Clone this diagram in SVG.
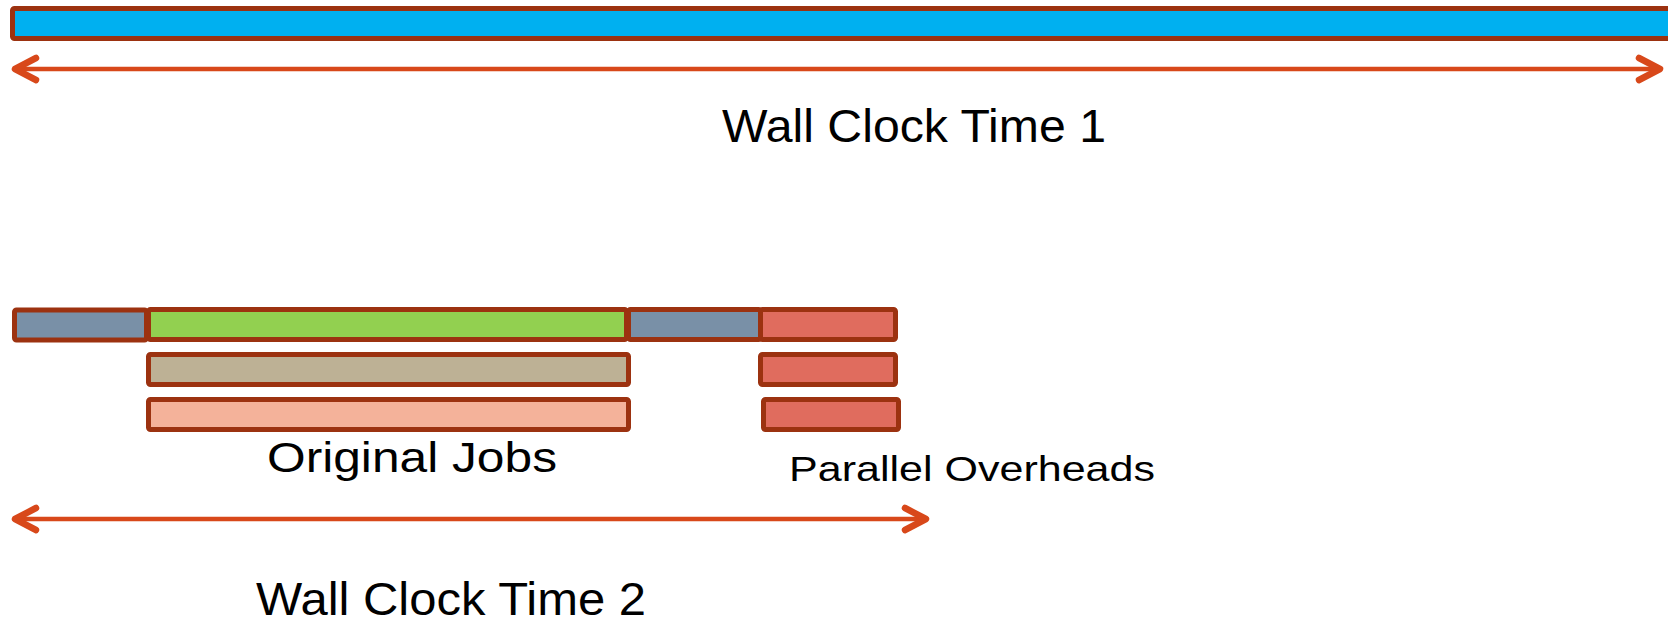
<svg xmlns="http://www.w3.org/2000/svg" width="1668" height="625" viewBox="0 0 1668 625">
  <style>
    .bar { stroke: #9C3210; stroke-width: 5; stroke-linejoin: round; }
    .wire { stroke: #D8481A; stroke-width: 4.5; fill: none; }
    .lbl { font-family: "Liberation Sans", Arial, sans-serif; fill: #000; }
  </style>
  <defs>
    <marker id="chev" markerUnits="userSpaceOnUse" markerWidth="40" markerHeight="40" refX="0" refY="0" orient="auto-start-reverse" overflow="visible">
      <path d="M -21 -11 L 0 0 L -21 11" fill="none" stroke="#D8481A" stroke-width="6.5" stroke-linecap="round" stroke-linejoin="round"/>
    </marker>
  </defs>

  <rect x="0" y="0" width="1668" height="625" fill="#fff"/>

  <!-- single serial run -->
  <g id="serial-run">
    <rect class="bar" x="12.5" y="8.5" width="1670" height="30" rx="2" fill="#00B0F0"/>
  </g>

  <!-- parallel run: setup, jobs, teardown, overhead -->
  <g id="setup">
    <rect class="bar" x="14.5" y="310" width="132" height="30" rx="2" fill="#7990A7"/>
  </g>
  <g id="job-1">
    <rect class="bar" x="148.5" y="309.5" width="478" height="30" rx="2" fill="#92D050"/>
  </g>
  <g id="teardown">
    <rect class="bar" x="628.5" y="309.5" width="132" height="30" rx="2" fill="#7990A7"/>
  </g>
  <g id="overhead-1">
    <rect class="bar" x="760.5" y="309.5" width="135" height="30" rx="2" fill="#E06C5E"/>
  </g>
  <g id="job-2">
    <rect class="bar" x="148.5" y="354.5" width="480" height="30" rx="2" fill="#BDB195"/>
  </g>
  <g id="overhead-2">
    <rect class="bar" x="760.5" y="354.5" width="135" height="30" rx="2" fill="#E06C5E"/>
  </g>
  <g id="job-3">
    <rect class="bar" x="148.5" y="399.5" width="480" height="30" rx="2" fill="#F4B29A"/>
  </g>
  <g id="overhead-3">
    <rect class="bar" x="763.5" y="399.5" width="135" height="30" rx="2" fill="#E06C5E"/>
  </g>

  <!-- span arrows -->
  <g id="connectors">
    <path class="wire" d="M 15 69 L 1660 69" marker-start="url(#chev)" marker-end="url(#chev)"/>
    <path class="wire" d="M 15 519 L 926 519" marker-start="url(#chev)" marker-end="url(#chev)"/>
  </g>

  <g id="labels">
    <text class="lbl" x="722" y="142" font-size="47" textLength="384" lengthAdjust="spacingAndGlyphs">Wall Clock Time 1</text>
    <text class="lbl" x="267" y="472" font-size="43" textLength="290" lengthAdjust="spacingAndGlyphs">Original Jobs</text>
    <text class="lbl" x="789" y="481" font-size="35" textLength="366" lengthAdjust="spacingAndGlyphs">Parallel Overheads</text>
    <text class="lbl" x="256" y="615" font-size="46" textLength="390" lengthAdjust="spacingAndGlyphs">Wall Clock Time 2</text>
  </g>
</svg>
